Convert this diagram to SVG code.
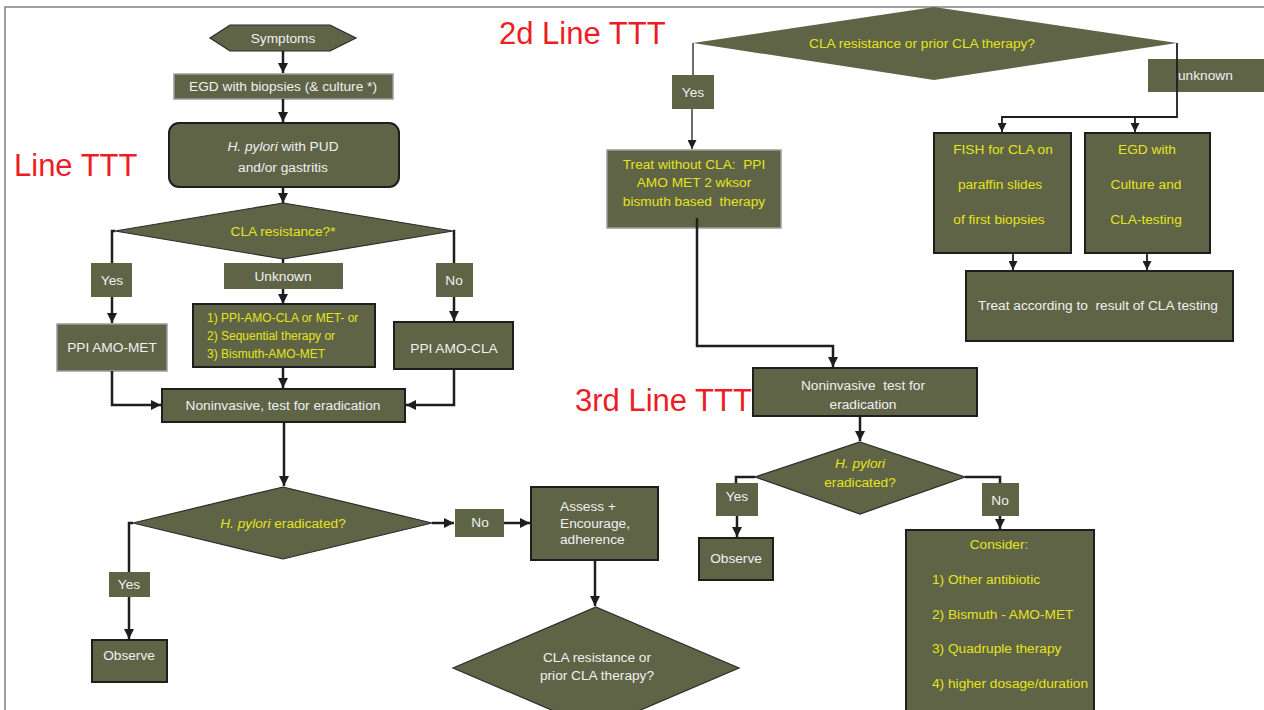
<svg xmlns="http://www.w3.org/2000/svg" width="1264" height="710" viewBox="0 0 1264 710">
<style>
.n{fill:#5f6447}
.dk{stroke:#1e1e1e;stroke-width:2}
.lt{stroke:#9c9c9c;stroke-width:1.5}
.th{stroke:#2a2a2a;stroke-width:1.2}
text{font-family:"Liberation Sans",Arial,sans-serif;font-size:13.7px;white-space:pre}
.w{fill:#f0f0f0}
.y{fill:#e4e41c}
.c{text-anchor:middle}
.i{font-style:italic}
.s{font-size:12px}
.red{fill:#ee1c25;font-size:31px}
.c2{fill:none;stroke:#1e1e1e;stroke-width:2.5}
.c1{fill:none;stroke:#1e1e1e;stroke-width:1.3}
.cm{fill:none;stroke:#1e1e1e;stroke-width:1.8}
</style>
<defs>
<marker id="ah" viewBox="0 0 10 10" refX="10" refY="5" markerWidth="10" markerHeight="10" markerUnits="userSpaceOnUse" orient="auto"><path d="M0,0 L10,5 L0,10 z" fill="#1e1e1e"/></marker>
<marker id="ahs" viewBox="0 0 10 10" refX="10" refY="5" markerWidth="9" markerHeight="9" markerUnits="userSpaceOnUse" orient="auto"><path d="M0,0 L10,5 L0,10 z" fill="#1e1e1e"/></marker>
</defs>
<rect width="1264" height="710" fill="#ffffff"/>
<g id="frame"><path d="M5,710 V7 H1264" fill="none" stroke="#808080" stroke-width="1.5"/></g>

<g id="titles">
<text class="red" x="14" y="176">Line TTT</text>
<text class="red" x="499" y="44">2d Line TTT</text>
<text class="red" x="575" y="411">3rd Line TTT</text>
</g>

<g id="symptoms"><polygon class="n th" points="210,38 230,25 330,25 356,38 330,51 230,51"/><text class="w c" x="283" y="43">Symptoms</text></g>
<g id="egd1"><rect class="n lt" x="174" y="74" width="219" height="25"/><text class="w c" x="283" y="91">EGD with biopsies (&amp; culture *)</text></g>
<g id="hpylori"><rect class="n dk" x="169" y="123" width="230" height="64" rx="10"/><text class="w c" x="283" y="151"><tspan class="i">H. pylori</tspan> with PUD</text><text class="w c" x="283" y="172">and/or gastritis</text></g>
<g id="cla1"><polygon class="n th" points="283,203 453,231 283,259 115,231"/><text class="y c" x="283" y="236">CLA resistance?*</text></g>
<g id="yes1"><rect class="n" x="91" y="263" width="41" height="34"/><text class="w c" x="112" y="285">Yes</text></g>
<g id="unknown1"><rect class="n" x="224" y="263" width="119" height="26"/><text class="w c" x="283" y="281">Unknown</text></g>
<g id="no1"><rect class="n" x="436" y="263" width="37" height="34"/><text class="w c" x="454" y="285">No</text></g>
<g id="ppiamomet"><rect class="n lt" x="57" y="324" width="110" height="47"/><text class="w c" x="112" y="352">PPI AMO-MET</text></g>
<g id="options"><rect class="n dk" x="193" y="304" width="182" height="63"/>
<text class="y s" x="207" y="322">1) PPI-AMO-CLA or MET- or</text>
<text class="y s" x="207" y="340">2) Sequential therapy or</text>
<text class="y s" x="207" y="358">3) Bismuth-AMO-MET</text></g>
<g id="ppiamocla"><rect class="n dk" x="394" y="322" width="119" height="47"/><text class="w c" x="454" y="353">PPI AMO-CLA</text></g>
<g id="noninv1"><rect class="n dk" x="162" y="389" width="243" height="33"/><text class="w c" x="283" y="410">Noninvasive, test for eradication</text></g>
<g id="erad1"><polygon class="n th" points="283,487 432,523 283,559 133,523"/><text class="y c" x="283" y="528"><tspan class="i">H. pylori</tspan> eradicated?</text></g>
<g id="yes2"><rect class="n" x="109" y="572" width="41" height="25"/><text class="w c" x="129" y="589">Yes</text></g>
<g id="observe1"><rect class="n dk" x="92" y="640" width="75" height="42"/><text class="w c" x="129" y="660">Observe</text></g>
<g id="no2"><rect class="n" x="455" y="509" width="49" height="28"/><text class="w c" x="480" y="527">No</text></g>
<g id="assess"><rect class="n dk" x="531" y="487" width="127" height="73"/>
<text class="w" x="560" y="511">Assess +</text><text class="w" x="560" y="528">Encourage,</text><text class="w" x="560" y="544">adherence</text></g>
<g id="cla3"><polygon class="n th" points="596,607 739,668 596,729 453,668"/><text class="w c" x="597" y="662">CLA resistance or</text><text class="w c" x="597" y="680">prior CLA therapy?</text></g>

<g id="cla2"><polygon class="n" points="693,43 934,7 1177,43 934,80"/><text class="y c" x="922" y="48">CLA resistance or prior CLA therapy?</text></g>
<g id="yes3"><rect class="n" x="672" y="75" width="42" height="34"/><text class="w c" x="693" y="97">Yes</text></g>
<g id="unknown2"><rect class="n" x="1148" y="59" width="120" height="33"/><text class="w" x="1178" y="80">unknown</text></g>
<g id="treatwithout"><rect class="n lt" x="607" y="150" width="174" height="78"/>
<text class="y c" x="694" y="169">Treat without CLA:  PPI</text>
<text class="y c" x="694" y="187">AMO MET 2 wksor</text>
<text class="y c" x="694" y="206">bismuth based  therapy</text></g>
<g id="fish"><rect class="n dk" x="934" y="133" width="137" height="120"/>
<text class="y c" x="1003" y="154">FISH for CLA on</text>
<text class="y c" x="1000" y="189">paraffin slides</text>
<text class="y c" x="999" y="224">of first biopsies</text></g>
<g id="egd2"><rect class="n dk" x="1085" y="133" width="125" height="120"/>
<text class="y c" x="1147" y="154">EGD with</text>
<text class="y c" x="1146" y="189">Culture and</text>
<text class="y c" x="1146" y="224">CLA-testing</text></g>
<g id="treatacc"><rect class="n dk" x="966" y="271" width="267" height="70"/><text class="w c" x="1098" y="310">Treat according to  result of CLA testing</text></g>
<g id="noninv2"><rect class="n dk" x="753" y="368" width="224" height="48"/><text class="w c" x="863" y="390">Noninvasive  test for</text><text class="w c" x="863" y="409">eradication</text></g>
<g id="erad2"><polygon class="n th" points="860,442 965,477 860,514 755,477"/><text class="y c i" x="860" y="468">H. pylori</text><text class="y c" x="860" y="487">eradicated?</text></g>
<g id="yes4"><rect class="n" x="716" y="483" width="42" height="33"/><text class="w c" x="737" y="501">Yes</text></g>
<g id="observe2"><rect class="n dk" x="699" y="538" width="74" height="42"/><text class="w c" x="736" y="563">Observe</text></g>
<g id="no4"><rect class="n" x="982" y="483" width="37" height="33"/><text class="w c" x="1000" y="505">No</text></g>
<g id="consider"><rect class="n dk" x="906" y="530" width="188" height="190"/>
<text class="y c" x="999" y="549">Consider:</text>
<text class="y" x="932" y="584">1) Other antibiotic</text>
<text class="y" x="932" y="619">2) Bismuth - AMO-MET</text>
<text class="y" x="932" y="653">3) Quadruple therapy</text>
<text class="y" x="932" y="688">4) higher dosage/duration</text></g>

<g id="connectors">
<path class="c2" d="M283,51 V73" marker-end="url(#ah)"/>
<path class="c2" d="M283,99 V122" marker-end="url(#ah)"/>
<path class="c2" d="M283,187 V203" marker-end="url(#ah)"/>
<path class="c2" d="M115,231 H112 V263"/>
<path class="c2" d="M112,297 V323" marker-end="url(#ah)"/>
<path class="c2" d="M283,259 V263"/>
<path class="c2" d="M283,289 V304" marker-end="url(#ah)"/>
<path class="c2" d="M453,231 H454 V263"/>
<path class="c2" d="M454,297 V321" marker-end="url(#ah)"/>
<path class="c2" d="M283,367 V388" marker-end="url(#ah)"/>
<path class="c2" d="M112,371 V405 H161" marker-end="url(#ah)"/>
<path class="c2" d="M454,369 V405 H406" marker-end="url(#ah)"/>
<path class="c2" d="M284,422 V486" marker-end="url(#ah)"/>
<path class="c2" d="M133,523 H129 V572"/>
<path class="c2" d="M129,597 V639" marker-end="url(#ah)"/>
<path class="c2" d="M432,523 H454" marker-end="url(#ah)"/>
<path class="c2" d="M504,523 H530" marker-end="url(#ah)"/>
<path class="c2" d="M595,560 V606" marker-end="url(#ah)"/>
<path class="c1" d="M693,43 V75"/>
<path class="c1" d="M692,109 V149" marker-end="url(#ahs)"/>
<path class="c2" d="M697,218 V346 H833 V367" marker-end="url(#ah)"/>
<path class="cm" d="M1177,43 V117 H1002 V132" marker-end="url(#ahs)"/>
<path class="cm" d="M1135,117 V132" marker-end="url(#ahs)"/>
<path class="cm" d="M1013,253 V270" marker-end="url(#ahs)"/>
<path class="cm" d="M1147,253 V270" marker-end="url(#ahs)"/>
<path class="c2" d="M860,416 V441" marker-end="url(#ah)"/>
<path class="c2" d="M755,477 H736 V483"/>
<path class="c2" d="M737,516 V537" marker-end="url(#ah)"/>
<path class="c2" d="M965,477 H1000 V483"/>
<path class="c2" d="M1000,516 V529" marker-end="url(#ah)"/>
</g>
</svg>
